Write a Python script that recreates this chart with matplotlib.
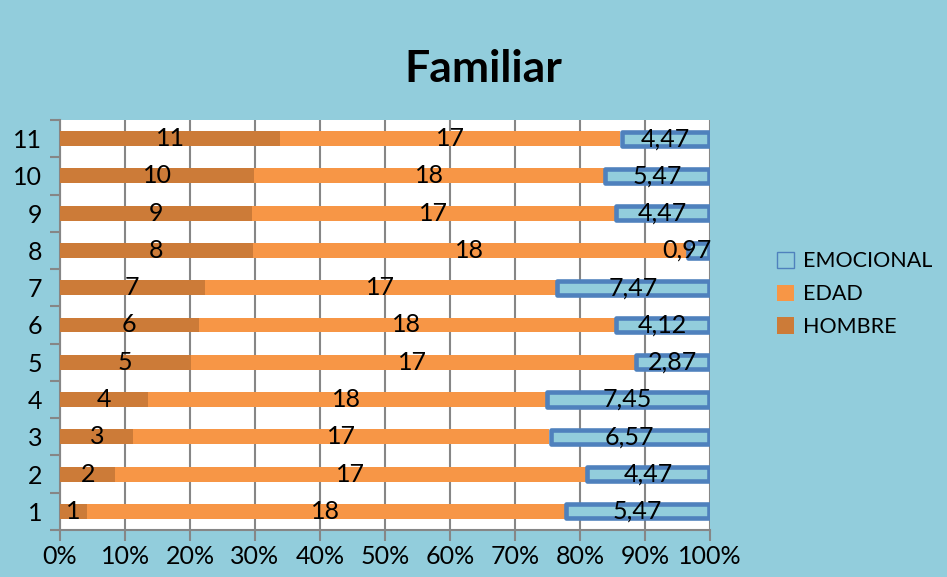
import numpy as np
import matplotlib.pyplot as plt
from matplotlib.ticker import MultipleLocator, PercentFormatter

categories = ['1', '2', '3', '4', '5', '6', '7', '8', '9', '10', '11']
hombre = [1, 2, 3, 4, 5, 6, 7, 8, 9, 10, 11]
edad = [18, 17, 17, 18, 17, 18, 17, 18, 17, 18, 17]
emocional = [5.47, 4.47, 6.57, 7.45, 2.87, 4.12, 7.47, 0.97, 4.47, 5.47, 4.47]

bg = '#92CDDC'
c_hombre = '#CC7B38'
c_edad = '#F79646'
c_emo_edge = '#4F81BD'

plt.rcParams['font.family'] = ['Lato', 'DejaVu Sans']

fig = plt.figure(figsize=(9.47, 5.77), dpi=100, facecolor=bg)
ax = fig.add_axes([0.0634, 0.0815, 0.6863, 0.7105])
ax.set_facecolor('white')

h = np.array(hombre, float)
e = np.array(edad, float)
m = np.array(emocional, float)
tot = h + e + m
ph, pe, pm = h / tot * 100, e / tot * 100, m / tot * 100
y = np.arange(len(categories))

bw = 0.4
b1 = ax.barh(y, ph, height=bw, color=c_hombre, label='HOMBRE', zorder=3)
b2 = ax.barh(y, pe, left=ph, height=bw, color=c_edad, label='EDAD', zorder=3)
b3 = ax.barh(y, pm - 0.4, left=ph + pe + 0.2, height=bw - 0.02, color=bg,
             edgecolor=c_emo_edge, linewidth=3.3, label='EMOCIONAL', zorder=3,
             joinstyle='round')

fs = 18
for i in range(len(y)):
    ax.text(ph[i] / 2, y[i], str(hombre[i]), ha='center', va='center', fontsize=fs, zorder=5)
    ax.text(ph[i] + pe[i] / 2, y[i], str(edad[i]), ha='center', va='center', fontsize=fs, zorder=5)
    lab = ('%.2f' % emocional[i]).replace('.', ',')
    xc = ph[i] + pe[i] + pm[i] / 2
    xc = min(xc, 96.5)
    ax.text(xc, y[i], lab, ha='center', va='center', fontsize=fs, zorder=5)

ax.set_xlim(0, 100)
ax.set_ylim(-0.5, len(categories) - 0.5)
ax.xaxis.set_major_locator(MultipleLocator(10))
ax.xaxis.set_major_formatter(PercentFormatter(decimals=0))
ax.set_yticks(y)
ax.set_yticklabels(categories)
ax.set_yticks(np.arange(-0.5, len(categories), 1), minor=True)
ax.tick_params(axis='y', which='major', length=0, labelsize=fs, pad=13)
ax.tick_params(axis='y', which='minor', length=7, color='#868686', width=1.5)
ax.tick_params(axis='x', length=8, color='#868686', width=1.5, labelsize=fs, pad=3)
ax.grid(axis='x', color='#868686', linewidth=1.5, zorder=0)
for s in ['top', 'right']:
    ax.spines[s].set_visible(False)
for s in ['left', 'bottom']:
    ax.spines[s].set_color('#868686')
    ax.spines[s].set_linewidth(1.5)

handles = [b3, b2, b1]
leg = fig.legend(handles, ['EMOCIONAL', 'EDAD', 'HOMBRE'], loc='center left',
                 bbox_to_anchor=(0.8, 0.49), frameon=False, fontsize=15.5,
                 handlelength=0.8, handleheight=0.8, handletextpad=0.4, labelspacing=0.6)
for hd in leg.legend_handles[:1]:
    hd.set_linewidth(1)

fig.text(0.51, 0.88, 'Familiar', ha='center', va='center', fontsize=32, fontweight='bold')

fig.savefig('out.png', dpi=100, facecolor=bg)
